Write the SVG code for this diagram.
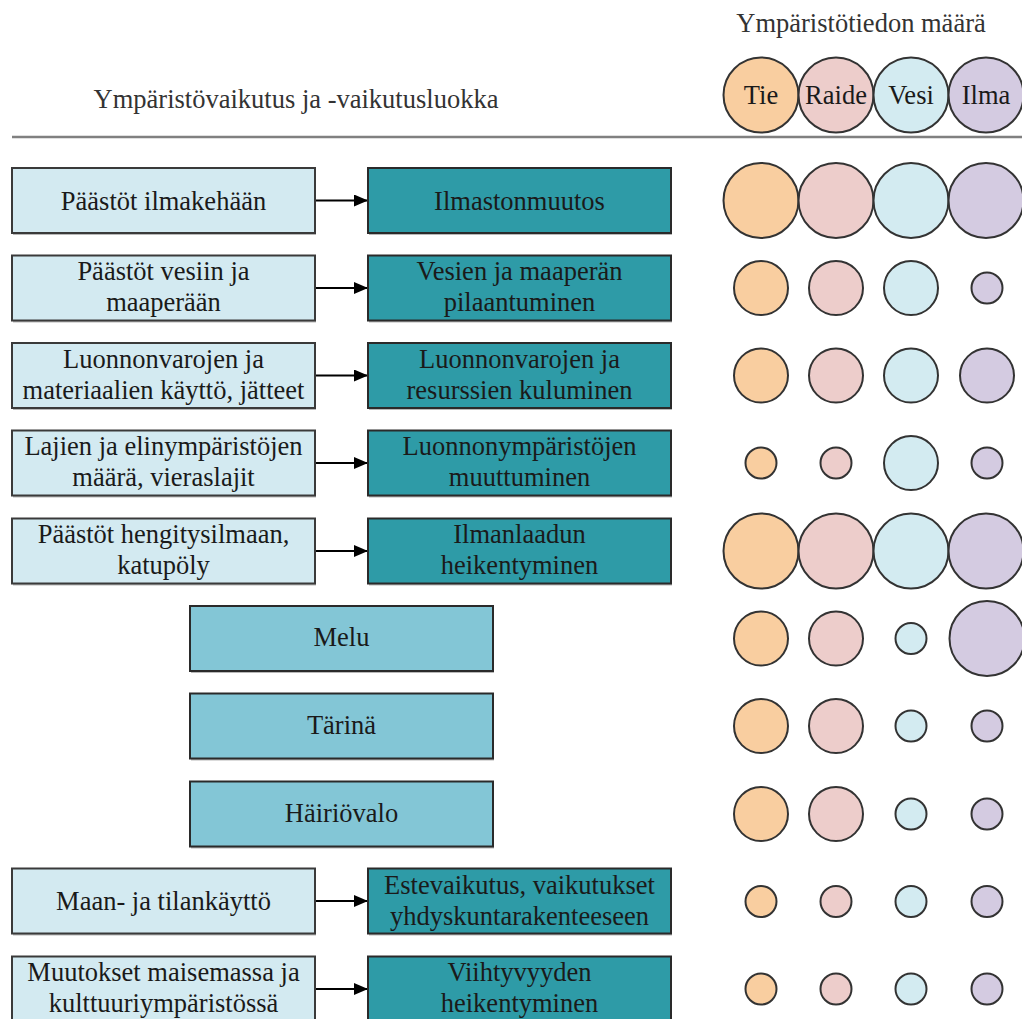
<svg xmlns="http://www.w3.org/2000/svg" width="1022" height="1019" viewBox="0 0 1022 1019">
<defs>
<marker id="ah" markerWidth="14" markerHeight="12" refX="14" refY="6" orient="auto" markerUnits="userSpaceOnUse">
<path d="M0,0 L14,6 L0,12 Z" fill="#000"/>
</marker>
<style>
text{font-family:"Liberation Serif","Times New Roman",serif;font-size:26.5px;fill:#1a1a1a;text-anchor:middle}
.hd{fill:#333}
.sh{fill:#b8b8b8}
.src{fill:#d3eaf1;stroke:#3a3a3a;stroke-width:2}
.dst{fill:#2e9ba7;stroke:#2a2a2a;stroke-width:2}
.mid{fill:#83c6d6;stroke:#2a2a2a;stroke-width:2}
.c{stroke:#333;stroke-width:2}
.t{fill:#f9cea0}.r{fill:#edcdcb}.v{fill:#d3ebf1}.i{fill:#d4cbe1}
.ar{stroke:#000;stroke-width:2;fill:none}
</style>
</defs>
<rect width="1022" height="1019" fill="#fff"/>
<g id="header">
<text class="hd" x="861" y="32">Ympäristötiedon määrä</text>
<text class="hd" x="296" y="108">Ympäristövaikutus ja -vaikutusluokka</text>
<line x1="12" y1="137" x2="1022" y2="137" stroke="#808080" stroke-width="2.5"/>
<circle class="c t" cx="761" cy="95" r="37.5"/><text x="761" y="104">Tie</text>
<circle class="c r" cx="836" cy="95" r="37.5"/><text x="836" y="104">Raide</text>
<circle class="c v" cx="911" cy="95" r="37.5"/><text x="911" y="104">Vesi</text>
<circle class="c i" cx="986" cy="95" r="37.5"/><text x="986" y="104">Ilma</text>
</g>
<g id="connectors">
<line class="ar" x1="315" y1="200.5" x2="368" y2="200.5" marker-end="url(#ah)"/>
<line class="ar" x1="315" y1="288" x2="368" y2="288" marker-end="url(#ah)"/>
<line class="ar" x1="315" y1="375.5" x2="368" y2="375.5" marker-end="url(#ah)"/>
<line class="ar" x1="315" y1="463" x2="368" y2="463" marker-end="url(#ah)"/>
<line class="ar" x1="315" y1="551" x2="368" y2="551" marker-end="url(#ah)"/>
<line class="ar" x1="315" y1="901" x2="368" y2="901" marker-end="url(#ah)"/>
<line class="ar" x1="315" y1="989" x2="368" y2="989" marker-end="url(#ah)"/>
</g>
<g id="row1-src"><rect class="sh" x="13" y="170" width="303" height="65"/><rect class="src" x="12" y="168" width="303" height="65"/><text x="163.5" y="209.5">Päästöt ilmakehään</text></g>
<g id="row1-dst"><rect class="sh" x="369" y="170" width="303" height="65"/><rect class="dst" x="368" y="168" width="303" height="65"/><text x="519.5" y="209.5">Ilmastonmuutos</text></g>
<g id="row2-src"><rect class="sh" x="13" y="257.5" width="303" height="65"/><rect class="src" x="12" y="255.5" width="303" height="65"/><text x="163.5" y="280">Päästöt vesiin ja</text><text x="163.5" y="311">maaperään</text></g>
<g id="row2-dst"><rect class="sh" x="369" y="257.5" width="303" height="65"/><rect class="dst" x="368" y="255.5" width="303" height="65"/><text x="519.5" y="280">Vesien ja maaperän</text><text x="519.5" y="311">pilaantuminen</text></g>
<g id="row3-src"><rect class="sh" x="13" y="345" width="303" height="65"/><rect class="src" x="12" y="343" width="303" height="65"/><text x="163.5" y="367.5">Luonnonvarojen ja</text><text x="163.5" y="398.5">materiaalien käyttö, jätteet</text></g>
<g id="row3-dst"><rect class="sh" x="369" y="345" width="303" height="65"/><rect class="dst" x="368" y="343" width="303" height="65"/><text x="519.5" y="367.5">Luonnonvarojen ja</text><text x="519.5" y="398.5">resurssien kuluminen</text></g>
<g id="row4-src"><rect class="sh" x="13" y="432.5" width="303" height="65"/><rect class="src" x="12" y="430.5" width="303" height="65"/><text x="163.5" y="455">Lajien ja elinympäristöjen</text><text x="163.5" y="486">määrä, vieraslajit</text></g>
<g id="row4-dst"><rect class="sh" x="369" y="432.5" width="303" height="65"/><rect class="dst" x="368" y="430.5" width="303" height="65"/><text x="519.5" y="455">Luonnonympäristöjen</text><text x="519.5" y="486">muuttuminen</text></g>
<g id="row5-src"><rect class="sh" x="13" y="520.5" width="303" height="65"/><rect class="src" x="12" y="518.5" width="303" height="65"/><text x="163.5" y="543">Päästöt hengitysilmaan,</text><text x="163.5" y="574">katupöly</text></g>
<g id="row5-dst"><rect class="sh" x="369" y="520.5" width="303" height="65"/><rect class="dst" x="368" y="518.5" width="303" height="65"/><text x="519.5" y="543">Ilmanlaadun</text><text x="519.5" y="574">heikentyminen</text></g>
<g id="melu"><rect class="sh" x="191" y="608" width="303" height="65"/><rect class="mid" x="190" y="606" width="303" height="65"/><text x="341.5" y="646">Melu</text></g>
<g id="tarina"><rect class="sh" x="191" y="695.5" width="303" height="65"/><rect class="mid" x="190" y="693.5" width="303" height="65"/><text x="341.5" y="734">Tärinä</text></g>
<g id="hairiovalo"><rect class="sh" x="191" y="783.5" width="303" height="65"/><rect class="mid" x="190" y="781.5" width="303" height="65"/><text x="341.5" y="822">Häiriövalo</text></g>
<g id="row9-src"><rect class="sh" x="13" y="870.5" width="303" height="65"/><rect class="src" x="12" y="868.5" width="303" height="65"/><text x="163.5" y="910">Maan- ja tilankäyttö</text></g>
<g id="row9-dst"><rect class="sh" x="369" y="870.5" width="303" height="65"/><rect class="dst" x="368" y="868.5" width="303" height="65"/><text x="519.5" y="893.5">Estevaikutus, vaikutukset</text><text x="519.5" y="924.5">yhdyskuntarakenteeseen</text></g>
<g id="row10-src"><rect class="sh" x="13" y="958.5" width="303" height="65"/><rect class="src" x="12" y="956.5" width="303" height="65"/><text x="163.5" y="981">Muutokset maisemassa ja</text><text x="163.5" y="1012">kulttuuriympäristössä</text></g>
<g id="row10-dst"><rect class="sh" x="369" y="958.5" width="303" height="65"/><rect class="dst" x="368" y="956.5" width="303" height="65"/><text x="519.5" y="981">Viihtyvyyden</text><text x="519.5" y="1012">heikentyminen</text></g>
<g id="amounts">
<circle class="c t" cx="761" cy="200.5" r="37.5"/><circle class="c r" cx="836" cy="200.5" r="37.5"/><circle class="c v" cx="911" cy="200.5" r="37.5"/><circle class="c i" cx="986" cy="200.5" r="37.5"/>
<circle class="c t" cx="761" cy="288" r="27"/><circle class="c r" cx="836" cy="288" r="27"/><circle class="c v" cx="911" cy="288" r="27"/><circle class="c i" cx="987" cy="288" r="15.5"/>
<circle class="c t" cx="761" cy="375.5" r="27"/><circle class="c r" cx="836" cy="375.5" r="27"/><circle class="c v" cx="911" cy="375.5" r="27"/><circle class="c i" cx="987" cy="375.5" r="27"/>
<circle class="c t" cx="761" cy="463" r="15.5"/><circle class="c r" cx="836" cy="463" r="15.5"/><circle class="c v" cx="911" cy="463" r="27"/><circle class="c i" cx="987" cy="463" r="15.5"/>
<circle class="c t" cx="761" cy="551" r="37.5"/><circle class="c r" cx="836" cy="551" r="37.5"/><circle class="c v" cx="911" cy="551" r="37.5"/><circle class="c i" cx="986" cy="551" r="37.5"/>
<circle class="c t" cx="761" cy="638.5" r="27"/><circle class="c r" cx="836" cy="638.5" r="27"/><circle class="c v" cx="911" cy="638.5" r="15.5"/><circle class="c i" cx="987" cy="638.5" r="37.5"/>
<circle class="c t" cx="761" cy="726" r="27"/><circle class="c r" cx="836" cy="726" r="27"/><circle class="c v" cx="911" cy="726" r="15.5"/><circle class="c i" cx="987" cy="726" r="15.5"/>
<circle class="c t" cx="761" cy="814" r="27"/><circle class="c r" cx="836" cy="814" r="27"/><circle class="c v" cx="911" cy="814" r="15.5"/><circle class="c i" cx="987" cy="814" r="15.5"/>
<circle class="c t" cx="761" cy="901.5" r="15.5"/><circle class="c r" cx="836" cy="901.5" r="15.5"/><circle class="c v" cx="911" cy="901.5" r="15.5"/><circle class="c i" cx="987" cy="901.5" r="15.5"/>
<circle class="c t" cx="761" cy="989" r="15.5"/><circle class="c r" cx="836" cy="989" r="15.5"/><circle class="c v" cx="911" cy="989" r="15.5"/><circle class="c i" cx="987" cy="989" r="15.5"/>
</g>
</svg>
